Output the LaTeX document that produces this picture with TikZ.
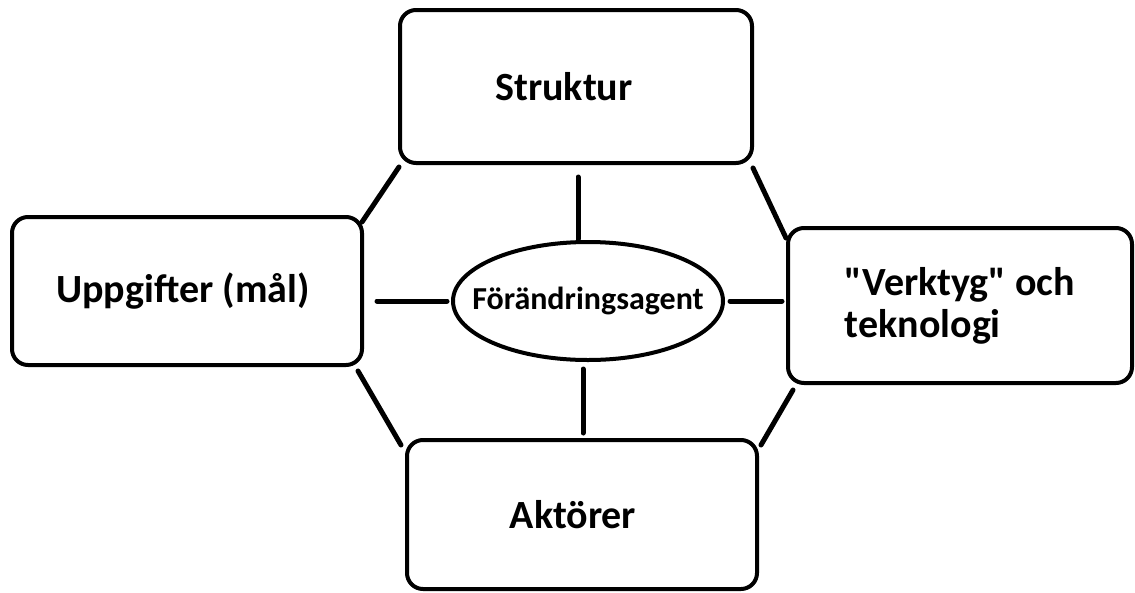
\documentclass[tikz,border=0pt]{standalone}
\usepackage{fontspec}
\setmainfont{Carlito}[Ligatures=TeXOff]
\usetikzlibrary{shapes.geometric,calc}
\tikzset{
  box/.style={draw, line width=4pt, rounded corners=16pt, inner sep=0pt, outer sep=0pt,
    font=\fontsize{40}{42}\selectfont\bfseries},
  agent/.style={draw, ellipse, line width=4pt, inner xsep=-25pt, inner ysep=0pt, outer sep=0pt,
    minimum width=270pt, minimum height=118pt, font=\fontsize{32}{34}\selectfont\bfseries},
  conn/.style={line width=5pt, line cap=round}
}
\begin{document}
\begin{tikzpicture}
\fill[white] (0,0) rectangle (1135pt,-592pt);
\useasboundingbox (0,0) rectangle (1135pt,-592pt);
\node[box, minimum width=352pt, minimum height=153pt] (s) at (576pt,-86.5pt) {\hspace*{-24pt}Struktur};
\node[box, minimum width=350pt, minimum height=148pt] (u) at (187pt,-291pt) {\hspace*{-8pt}Uppgifter (mål)};
\node[box, minimum width=344pt, minimum height=155pt, align=left] (v) at (960pt,-305.5pt) {"Verktyg" och\\teknologi};
\node[box, minimum width=350pt, minimum height=149pt] (a) at (582pt,-514.5pt) {\hspace*{-18pt}Aktörer};
\node[agent] (e) at (588pt,-301pt) {Förändringsagent};
% vertical connectors
\draw[conn, shorten >=3pt] ([shift={(2pt,-14pt)}]s.south) coordinate (t1) -- (t1 |- e.north);
\draw[conn, shorten <=9pt, shorten >=7pt] ([xshift=1pt]a.north |- e.south) -- ([xshift=1pt]a.north);
% horizontal connectors
\draw[conn, shorten <=6pt, shorten >=15pt] (e.west) -- (e.west -| u.east);
\draw[conn, shorten <=7pt, shorten >=6pt] (e.east) -- (e.east -| v.west);
% diagonal connectors
\draw[conn] ([shift={(-1pt,-4pt)}]s.south west) -- ([shift={(0pt,-5pt)}]u.north east);
\draw[conn] ([shift={(1pt,-5pt)}]s.south east) -- ([shift={(-2pt,-10pt)}]v.north west);
\draw[conn] ([shift={(-4pt,-6pt)}]u.south east) -- ([shift={(-6pt,-5pt)}]a.north west);
\draw[conn] ([shift={(5pt,-7pt)}]v.south west) -- ([shift={(4pt,-5pt)}]a.north east);
\end{tikzpicture}
\end{document}
